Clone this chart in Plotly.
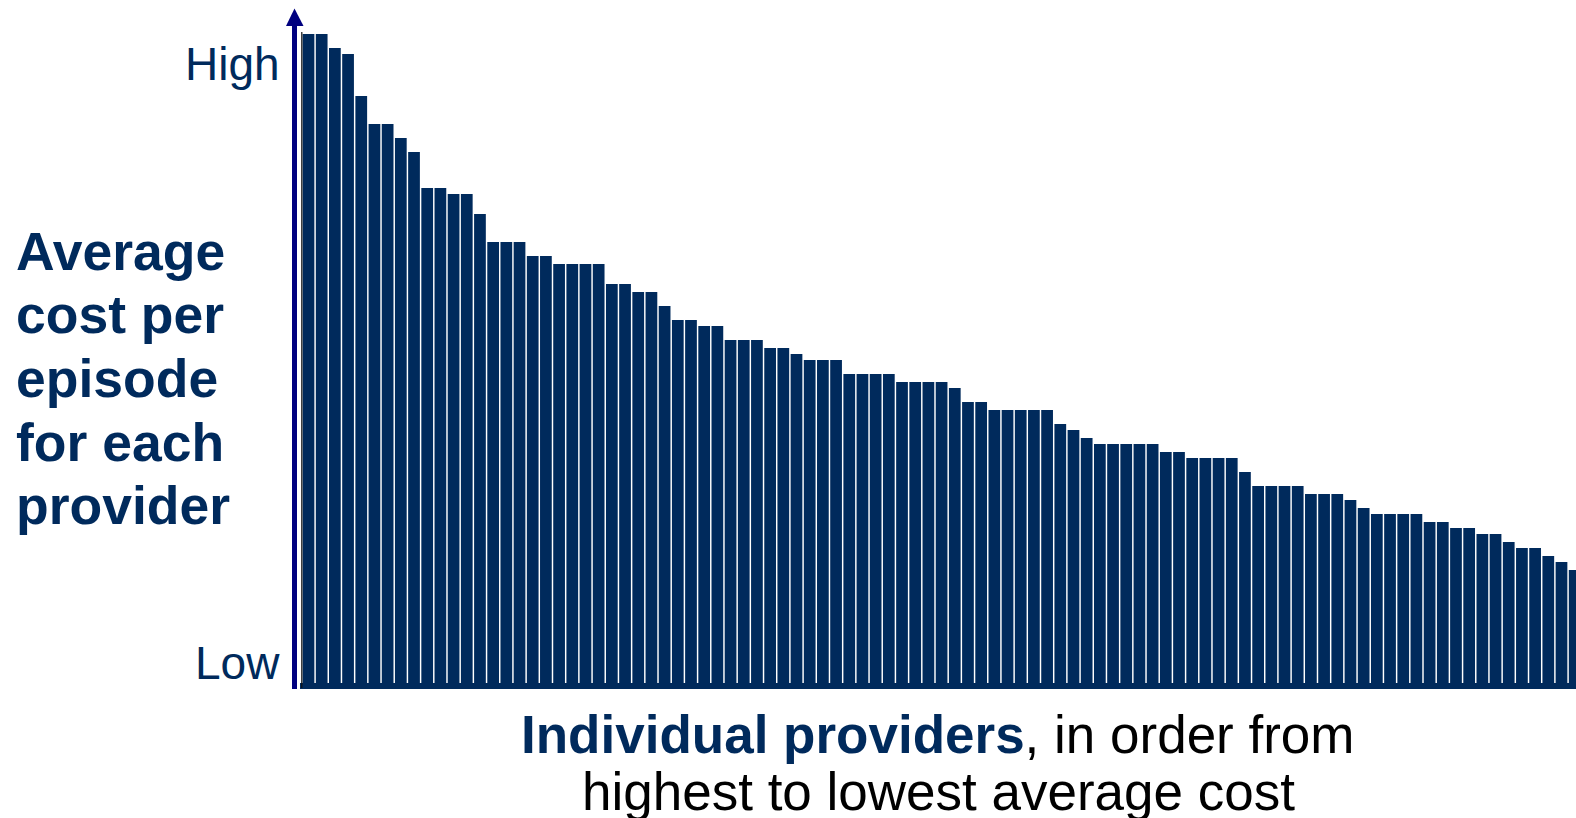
import plotly.graph_objects as go

# Average cost per episode (relative index), providers ordered high -> low
avg_cost = [649, 649, 635, 629, 587, 559, 559, 545, 531, 495,
            495, 489, 489, 469, 441, 441, 441, 427, 427, 419,
            419, 419, 419, 399, 399, 391, 391, 377, 363, 363,
            357, 357, 343, 343, 343, 335, 335, 329, 323, 323,
            323, 309, 309, 309, 309, 301, 301, 301, 301, 295,
            281, 281, 273, 273, 273, 273, 273, 259, 253, 245,
            239, 239, 239, 239, 239, 231, 231, 225, 225, 225,
            225, 211, 197, 197, 197, 197, 189, 189, 189, 183,
            175, 169, 169, 169, 169, 161, 161, 155, 155, 149,
            149, 141, 135, 135, 127, 121, 113]
providers = list(range(len(avg_cost)))

y_labels = ["High", "Low"]
y_title_lines = ["Average", "cost per", "episode", "for each", "provider"]
x_title_bold = "Individual providers"
x_title_rest = ", in order from"
x_title_line2 = "highest to lowest average cost"

BAR = "#002A5C"
NAVY_TXT = "#002A5C"
ARROW = "#00007F"
FONT = "Liberation Sans, Arial, sans-serif"

W, H = 1576, 818
ML, MB = 300, 129
PW, PH = W - ML, H - MB


def px(xp):
    return (xp - ML) / PW


def py(yp):
    return (PH - yp) / PH


fig = go.Figure(go.Bar(
    x=providers, y=avg_cost,
    marker=dict(color=BAR, line=dict(width=0)),
    hoverinfo="skip",
))

shapes = [
    # dark baseline strip under the bars
    dict(type="rect", xref="paper", yref="y", x0=px(300), x1=1.0, y0=-6, y1=0,
         fillcolor=BAR, line=dict(width=0), layer="above"),
    # thin black axis line left of first bar
    dict(type="line", xref="paper", yref="paper", x0=px(301.8), x1=px(301.8),
         y0=py(688), y1=py(32), line=dict(color="#111111", width=1.2)),
    # navy vertical arrow shaft
    dict(type="rect", xref="paper", yref="paper", x0=px(292), x1=px(297),
         y0=py(689), y1=py(24), fillcolor=ARROW, line=dict(width=0)),
    # arrow head
    dict(type="path", xref="paper", yref="paper",
         path=f"M {px(286)},{py(26)} L {px(303.5)},{py(26)} L {px(294.5)},{py(8.5)} Z",
         fillcolor=ARROW, line=dict(width=0)),
]

annotations = []
# High / Low
for lab, yc in zip(y_labels, [64, 663]):
    annotations.append(dict(
        x=px(282), y=py(yc), xref="paper", yref="paper", xanchor="right",
        yanchor="middle", text=lab, showarrow=False,
        font=dict(family=FONT, size=46, color=NAVY_TXT)))

# y title lines
for i, line in enumerate(y_title_lines):
    yc = 251 + i * 63.7
    annotations.append(dict(
        x=px(14), y=py(yc), xref="paper", yref="paper", xanchor="left",
        yanchor="middle", text=f"<b>{line}</b>", showarrow=False,
        font=dict(family=FONT, size=53.5, color=NAVY_TXT)))

# x title lines
annotations.append(dict(
    x=px(938), y=py(734), xref="paper", yref="paper", xanchor="center",
    yanchor="middle",
    text=f"<b><span style='color:{NAVY_TXT}'>{x_title_bold}</span></b>{x_title_rest}",
    showarrow=False, font=dict(family=FONT, size=53, color="#000000")))
annotations.append(dict(
    x=px(938), y=py(791), xref="paper", yref="paper", xanchor="center",
    yanchor="middle", text=x_title_line2, showarrow=False,
    font=dict(family=FONT, size=53, color="#000000")))

fig.update_layout(
    width=W, height=H,
    margin=dict(l=ML, r=0, t=0, b=MB, pad=0),
    paper_bgcolor="white", plot_bgcolor="white",
    bargap=0.11,
    showlegend=False,
    xaxis=dict(range=[-0.644, 96.1], visible=False, fixedrange=True),
    yaxis=dict(range=[-6, 683], visible=False, fixedrange=True),
    shapes=shapes,
    annotations=annotations,
)

fig.write_html("out.html", config={"displayModeBar": False})
